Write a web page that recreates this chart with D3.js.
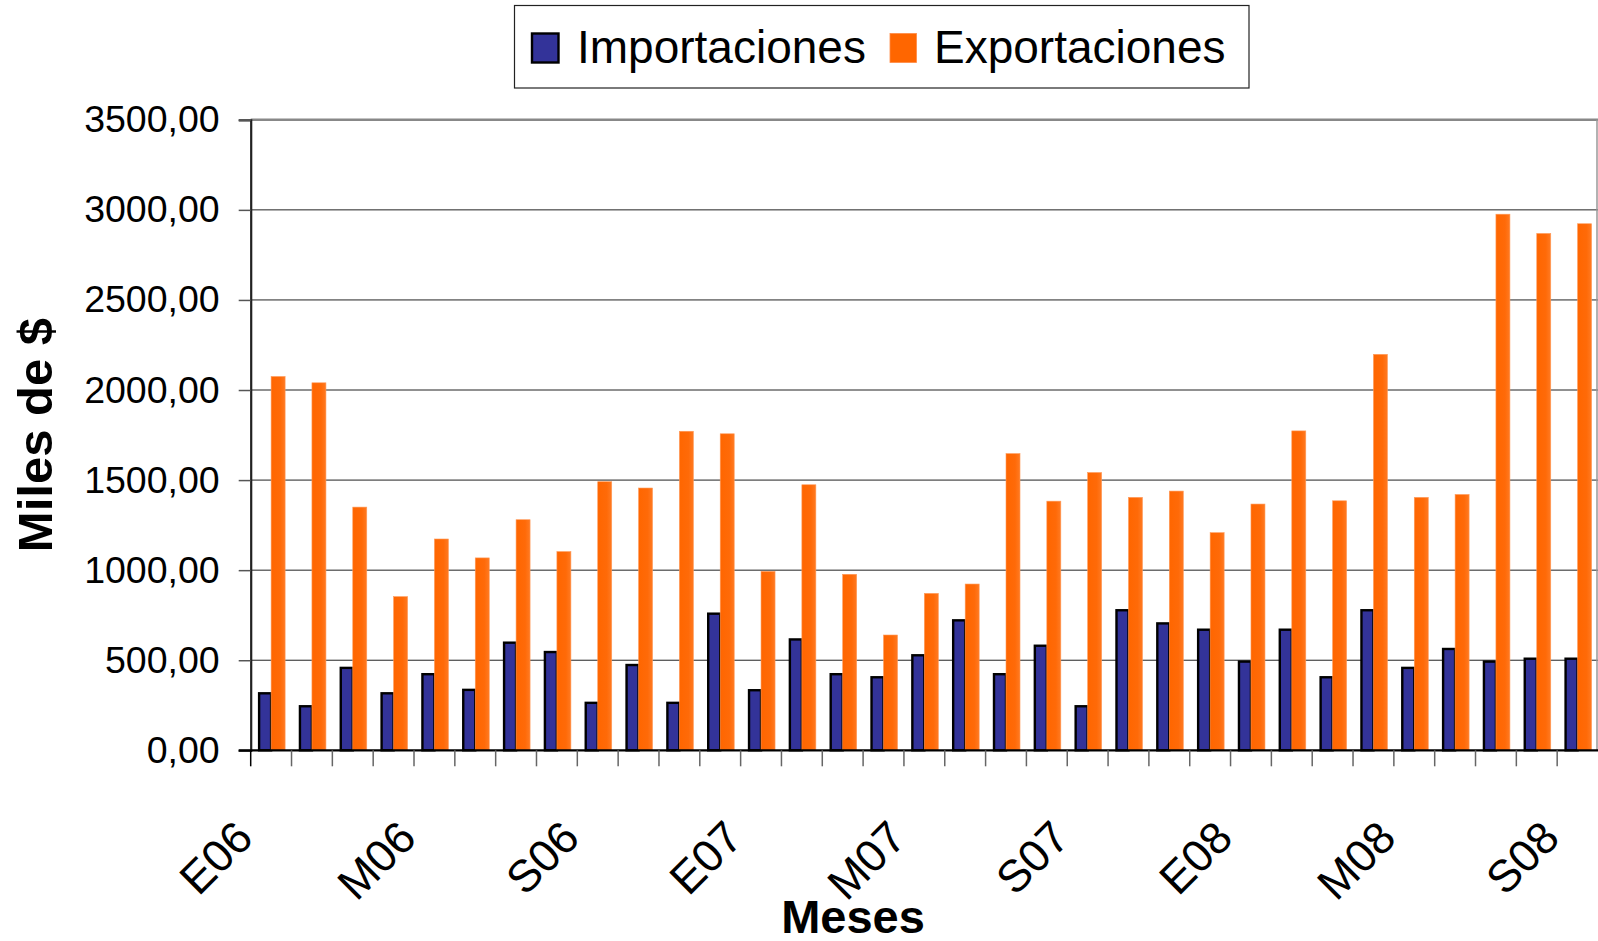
<!DOCTYPE html>
<html>
<head>
<meta charset="utf-8">
<script src="https://cdn.jsdelivr.net/npm/d3@7"></script>
<style>
  html, body { margin: 0; padding: 0; background: #fff; }
  svg { display: block; font-family: "Liberation Sans", Arial, sans-serif; }
</style>
</head>
<body>
<svg id="chart" width="1598" height="941"></svg>
<script>
// ---- data ----
const months = [
  "Ene 2006","Feb 2006","Mar 2006","Abr 2006","May 2006","Jun 2006","Jul 2006","Ago 2006","Sep 2006","Oct 2006","Nov 2006","Dic 2006",
  "Ene 2007","Feb 2007","Mar 2007","Abr 2007","May 2007","Jun 2007","Jul 2007","Ago 2007","Sep 2007","Oct 2007","Nov 2007","Dic 2007",
  "Ene 2008","Feb 2008","Mar 2008","Abr 2008","May 2008","Jun 2008","Jul 2008","Ago 2008","Sep 2008"
];
const importaciones = [322,250,463,322,428,341,603,551,269,479,269,764,339,621,428,411,533,727,428,586,250,783,710,675,498,675,411,783,463,568,498,514,514];
const exportaciones = [2075,2040,1350,853,1173,1068,1280,1103,1491,1456,1771,1757,993,1474,977,640,871,923,1647,1383,1542,1404,1439,1208,1367,1773,1385,2198,1404,1420,2976,2869,2923];
const tickMonths = ["Ene 2006","May 2006","Sep 2006","Ene 2007","May 2007","Sep 2007","Ene 2008","May 2008","Sep 2008"];
const tickLabels = ["E06","M06","S06","E07","M07","S07","E08","M08","S08"];
const yTicks = [0,500,1000,1500,2000,2500,3000,3500];
const seriesNames = ["Importaciones","Exportaciones"];
const seriesColors = ["#333399","#FF6600"];
const yTitle = "Miles de $";
const xTitle = "Meses";

// ---- layout ----
const svg = d3.select("#chart");
const L = 250.7, R = 1598, T = 119.8, B = 750.3;

const x = d3.scaleBand().domain(months).range([L, R]).paddingInner(0).paddingOuter(0);
const xs = d3.scaleBand().domain(seriesNames).range([0, x.bandwidth()]).paddingInner(0).paddingOuter(0.57);
const y = d3.scaleLinear().domain([0, 3500]).range([B, T]);

const defs = svg.append("defs");
const grad = defs.append("linearGradient").attr("id", "expGrad").attr("x1", "0").attr("x2", "1").attr("y1", "0").attr("y2", "0");
grad.append("stop").attr("offset", "0%").attr("stop-color", "#FF6600");
grad.append("stop").attr("offset", "65%").attr("stop-color", "#FF6A08");
grad.append("stop").attr("offset", "100%").attr("stop-color", "#FF7A22");

// gridlines
svg.append("g").selectAll("line").data(yTicks.filter(d => d > 0 && d < 3500)).join("line")
  .attr("x1", L).attr("x2", R).attr("y1", d => y(d)).attr("y2", d => y(d))
  .attr("stroke", "#222").attr("stroke-width", 1);

// plot border top & right
svg.append("line").attr("x1", L).attr("x2", R).attr("y1", y(3500)).attr("y2", y(3500))
  .attr("stroke", "#888").attr("stroke-width", 2.5);
svg.append("line").attr("x1", R - 1).attr("x2", R - 1).attr("y1", y(3500)).attr("y2", B)
  .attr("stroke", "#999").attr("stroke-width", 1.5);

// y axis
const yAxis = svg.append("g").attr("transform", `translate(${L},0)`)
  .call(d3.axisLeft(y).tickValues(yTicks).tickSize(12).tickPadding(19)
    .tickFormat(d => d3.format(".2f")(d).replace(".", ",")));
yAxis.select(".domain").attr("stroke", "#222").attr("stroke-width", 2.2);
yAxis.selectAll(".tick line").attr("stroke", "#555").attr("stroke-width", 1.5);
yAxis.selectAll(".tick text").attr("font-size", 37.5).attr("fill", "#000")
  .attr("font-family", '"Liberation Sans", Arial, sans-serif').attr("dy", "0.32em");

// bars
const groups = svg.append("g").selectAll("g").data(months).join("g")
  .attr("transform", d => `translate(${x(d)},0)`);
groups.append("rect")
  .attr("x", xs("Importaciones") + 1)
  .attr("width", xs.bandwidth() - 1)
  .attr("y", (d, i) => y(importaciones[i]) + 1)
  .attr("height", (d, i) => B - y(importaciones[i]) - 1)
  .attr("fill", seriesColors[0]).attr("stroke", "#000").attr("stroke-width", 2.4);
groups.append("rect")
  .attr("x", xs("Exportaciones"))
  .attr("width", xs.bandwidth() + 1)
  .attr("y", (d, i) => y(exportaciones[i]))
  .attr("height", (d, i) => B - y(exportaciones[i]))
  .attr("fill", "url(#expGrad)").attr("stroke", "#FF9A5A").attr("stroke-width", 0.6);

// x axis line + boundary ticks
svg.append("line").attr("x1", L - 12).attr("x2", R).attr("y1", B).attr("y2", B)
  .attr("stroke", "#000").attr("stroke-width", 2.2);
const bounds = months.map(m => x(m)).concat([R]);
svg.append("g").selectAll("line").data(bounds.slice(0, months.length)).join("line")
  .attr("x1", d => d).attr("x2", d => d).attr("y1", B).attr("y2", B + 16)
  .attr("stroke", (d, i) => i === 0 ? "#000" : "#666").attr("stroke-width", 1.5);

// x tick labels
const xAxis = svg.append("g").attr("transform", `translate(0,${B})`)
  .call(d3.axisBottom(x).tickValues(tickMonths).tickSize(0)
    .tickFormat(d => tickLabels[tickMonths.indexOf(d)]));
xAxis.select(".domain").remove();
xAxis.selectAll(".tick text")
  .attr("font-size", 45).attr("fill", "#000")
  .attr("font-family", '"Liberation Sans", Arial, sans-serif')
  .attr("text-anchor", "end")
  .attr("x", 0).attr("y", 0).attr("dy", 0)
  .attr("transform", "translate(-16,90) rotate(-45)");

// axis titles
svg.append("text").attr("transform", `translate(52,${(T + B) / 2}) rotate(-90)`)
  .attr("text-anchor", "middle").attr("font-size", 49).attr("font-weight", "bold").text(yTitle);
svg.append("text").attr("x", 853).attr("y", 933)
  .attr("text-anchor", "middle").attr("font-size", 47).attr("font-weight", "bold").text(xTitle);

// legend
const lg = svg.append("g");
lg.append("rect").attr("x", 514.5).attr("y", 5.5).attr("width", 734.5).attr("height", 82.5)
  .attr("fill", "#fff").attr("stroke", "#222").attr("stroke-width", 1.2);
const legendItems = [
  { name: seriesNames[0], color: seriesColors[0], sx: 532, tx: 577, stroke: "#000", sw: 2.4 },
  { name: seriesNames[1], color: seriesColors[1], sx: 890, tx: 934, stroke: "#FF8A45", sw: 0.8 }
];
legendItems.forEach(it => {
  lg.append("rect").attr("x", it.sx).attr("y", 33.5).attr("width", 26.5).attr("height", 29)
    .attr("fill", it.color).attr("stroke", it.stroke).attr("stroke-width", it.sw);
  lg.append("text").attr("x", it.tx).attr("y", 63).attr("font-size", 46).attr("fill", "#000").text(it.name);
});
</script>
</body>
</html>
